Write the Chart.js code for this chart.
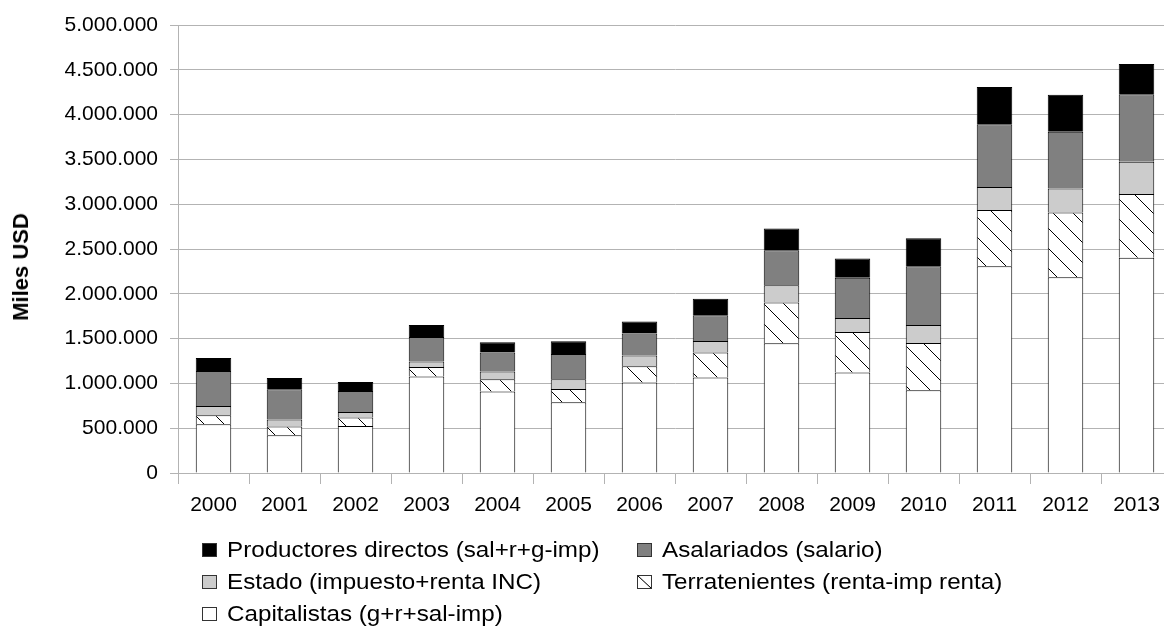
<!DOCTYPE html>
<html>
<head>
<meta charset="utf-8">
<script src="https://cdn.jsdelivr.net/npm/chart.js@4/dist/chart.umd.min.js"></script>
<style>
    html, body { margin: 0; padding: 0; background: #fff; }
    body { width: 1164px; height: 626px; overflow: hidden; position: relative; font-family: 'Liberation Sans', Arial, sans-serif; color: #000; }
    #chart { position: absolute; left: 0; top: 0; }
    #ytitle { position: absolute; left: 21px; top: 267px; transform: translate(-50%, -50%) rotate(-90deg); font-weight: bold; font-size: 22px; white-space: nowrap; }
    .item { position: absolute; display: flex; align-items: center; font-size: 22px; line-height: 26px; white-space: nowrap; }
    .sw { width: 15px; height: 14px; box-sizing: border-box; border: 1px solid #333; margin-right: 10px; flex: none; }
    .txt { display: inline-block; transform: scaleX(1.1); transform-origin: left center; }
</style>
</head>
<body>
<canvas id="chart" width="1180" height="626"></canvas>
<div id="ytitle">Miles USD</div>
<div id="legend"></div>
<script>
const years = ['2000', '2001', '2002', '2003', '2004', '2005', '2006', '2007', '2008', '2009', '2010', '2011', '2012', '2013']

const capitalistas = [544000, 421000, 525000, 1077000, 909000, 790000, 1010000, 1065000, 1449000, 1121000, 924000, 2308000, 2186000, 2401000]
const terratenientes = [100000, 97000, 94000, 107000, 137000, 148000, 182000, 280000, 454000, 454000, 528000, 626000, 722000, 712000]
const estado = [104000, 78000, 62000, 60000, 86000, 108000, 119000, 129000, 193000, 156000, 201000, 257000, 268000, 360000]
const asalariados = [391000, 339000, 235000, 275000, 213000, 283000, 246000, 287000, 391000, 447000, 655000, 700000, 632000, 753000]
const productores = [145000, 126000, 100000, 134000, 115000, 142000, 134000, 184000, 242000, 216000, 313000, 417000, 414000, 338000]

const yMax = 5000000
const yStep = 500000

function fmt(v) {
    return String(v).replace(/\B(?=(\d{3})+(?!\d))/g, '.')
}

// diagonal hatch for terratenientes
function hatch() {
    const c = document.createElement('canvas')
    c.width = 20
    c.height = 20
    const g = c.getContext('2d')
    g.fillStyle = '#fff'
    g.fillRect(0, 0, 20, 20)
    g.strokeStyle = '#000'
    g.lineWidth = 1
    g.beginPath()
    g.moveTo(-2, -2)
    g.lineTo(22, 22)
    g.stroke()
    return g.createPattern(c, 'repeat')
}

const series = [
    { label: 'Capitalistas (g+r+sal-imp)', data: capitalistas, color: '#ffffff' },
    { label: 'Terratenientes (renta-imp renta)', data: terratenientes, color: hatch() },
    { label: 'Estado (impuesto+renta INC)', data: estado, color: '#cccccc' },
    { label: 'Asalariados (salario)', data: asalariados, color: '#808080' },
    { label: 'Productores directos (sal+r+g-imp)', data: productores, color: '#000000' }
]

const datasets = series.map(s => ({
    label: s.label,
    data: s.data,
    backgroundColor: s.color,
    borderColor: '#000',
    borderWidth: 1,
    barPercentage: 0.5,
    categoryPercentage: 1
}))

new Chart(document.getElementById('chart'), {
    type: 'bar',
    data: { labels: years, datasets: datasets },
    options: {
        responsive: false,
        animation: false,
        layout: { padding: { top: 25, right: 8, left: 0, bottom: 0 } },
        plugins: { legend: { display: false }, tooltip: { enabled: false } },
        scales: {
            x: {
                stacked: true,
                grid: { drawOnChartArea: false, color: '#b3b3b3', tickLength: 11 },
                border: { color: '#b3b3b3' },
                ticks: { color: '#000', font: { family: 'Liberation Sans', size: 21 }, padding: 9, maxRotation: 0 },
                afterFit: s => { s.height = 153 }
            },
            y: {
                stacked: true,
                min: 0,
                max: yMax,
                grid: { color: '#b3b3b3', tickLength: 8 },
                border: { color: '#b3b3b3' },
                ticks: { stepSize: yStep, color: '#000', font: { family: 'Liberation Sans', size: 21 }, padding: 12, callback: v => fmt(v) },
                afterFit: s => { s.width = 178 }
            }
        }
    }
})

// legend, same layout as the original (two columns)
const legendItems = [
    { i: 4, x: 202, y: 550 },
    { i: 3, x: 637, y: 550 },
    { i: 2, x: 202, y: 582 },
    { i: 1, x: 637, y: 582 },
    { i: 0, x: 202, y: 614 }
]
const legend = document.getElementById('legend')
legendItems.forEach(it => {
    const s = series[it.i]
    let bg = s.color
    if (it.i === 1) bg = 'linear-gradient(to top right, #fff calc(50% - 0.8px), #000 50%, #fff calc(50% + 0.8px))'
    const el = document.createElement('div')
    el.className = 'item'
    el.style.left = it.x + 'px'
    el.style.top = (it.y - 13) + 'px'
    el.innerHTML = `<span class="sw" style="background:${bg}"></span><span class="txt">${s.label}</span>`
    legend.appendChild(el)
})
</script>
</body>
</html>
